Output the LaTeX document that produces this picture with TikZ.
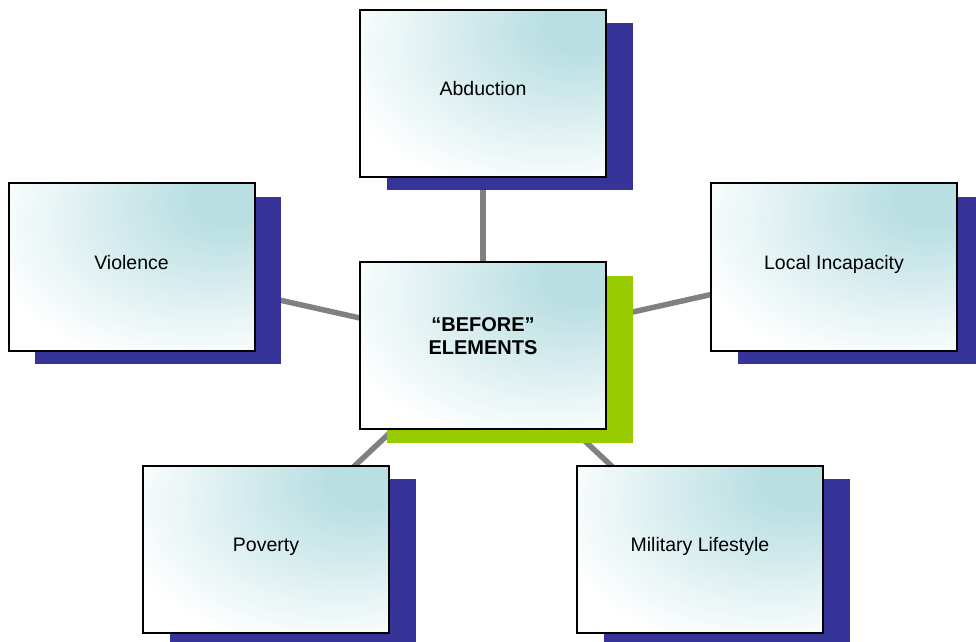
\documentclass[tikz,border=0pt]{standalone}
\usepackage{fontspec}
\setmainfont{Liberation Sans}
\usetikzlibrary{shadows,backgrounds}
\definecolor{tealc}{RGB}{186,223,226}
\definecolor{shadowblue}{RGB}{54,52,153}
\definecolor{shadowgreen}{RGB}{153,204,0}
\definecolor{linegray}{RGB}{128,128,128}
\pgfdeclareradialshading{boxshade}{\pgfpoint{22bp}{22bp}}{color(0bp)=(tealc); color(8bp)=(tealc); color(42bp)=(white); color(90bp)=(white)}
\begin{document}
\begin{tikzpicture}[x=1pt,y=1pt,
  box/.style={rectangle, draw=black, line width=2pt, shading=boxshade,
    minimum width=246pt, minimum height=167pt, inner sep=0pt,
    font=\fontsize{19.5}{23}\selectfont, text height=14pt, text depth=9pt},
  blueshadow/.style={drop shadow={shadow xshift=26.5pt, shadow yshift=-13.5pt, fill=shadowblue, opacity=1}},
  greenshadow/.style={drop shadow={shadow xshift=26.5pt, shadow yshift=-13.5pt, fill=shadowgreen, opacity=1}},
  ctrtext/.style={align=center, inner sep=0pt, font=\fontsize{20}{23}\selectfont\bfseries},
  conn/.style={draw=linegray, line width=5.5pt}]
\useasboundingbox (0,0) rectangle (976,641);
\node[box, blueshadow] (abd) at (483,547.5) {Abduction};
\node[box, blueshadow] (vio) at (131.5,374) {Violence};
\node[box, blueshadow] (loc) at (834,374) {Local Incapacity};
\node[box, blueshadow] (pov) at (266,92) {Poverty};
\node[box, blueshadow] (mil) at (700,92) {Military Lifestyle};
\node[box, greenshadow] (ctr) at (483,295.5) {};
\node[ctrtext] (ctrlabel) at ([yshift=9.5pt]ctr.center) {“BEFORE”\\ELEMENTS};
\begin{scope}[on background layer]
\draw[conn] (ctr.center) -- (abd.center);
\draw[conn] (ctr.center) -- (vio.center);
\draw[conn] (ctr.center) -- (loc.center);
\draw[conn] (ctr.center) -- (pov.center);
\draw[conn] (ctr.center) -- (mil.center);
\end{scope}
\end{tikzpicture}
\end{document}
